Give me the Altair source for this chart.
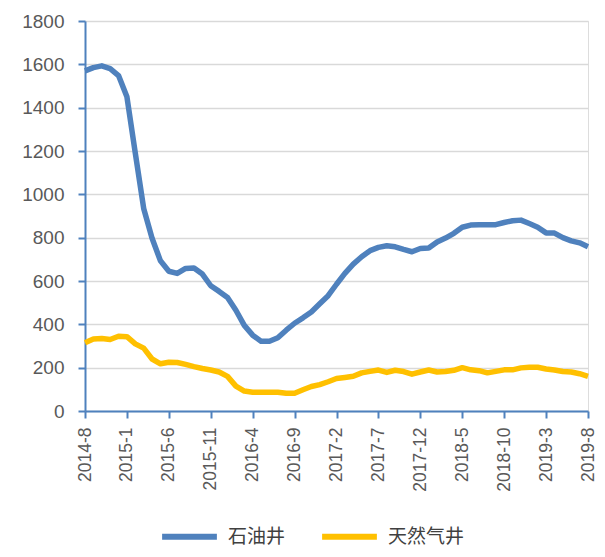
import altair as alt
import pandas as pd

months = []
y, m = 2014, 8
for _ in range(61):
    months.append(f"{y}-{m}")
    m += 1
    if m > 12:
        m = 1
        y += 1

oil = [1570, 1585, 1593, 1580, 1548, 1450, 1190, 935, 797, 693,
       645, 635, 658, 660, 632, 578, 552, 524, 465, 395,
       350, 322, 322, 338, 373, 405, 430, 457, 495, 532,
       585, 635, 678, 712, 740, 755, 763, 758, 746, 735,
       750, 752, 780, 798, 820, 848, 858, 860, 860, 860,
       870, 878, 881, 865, 848, 822, 821, 800, 785, 776,
       758]

gas = [315, 332, 335, 330, 345, 343, 310, 290, 240, 218,
       225, 224, 215, 205, 196, 189, 180, 160, 115, 92,
       87, 87, 87, 87, 82, 82, 98, 113, 122, 135,
       150, 155, 160, 176, 183, 189, 178, 188, 182, 170,
       180, 189, 180, 182, 188, 200, 190, 186, 176, 183,
       190, 190, 199, 202, 202, 194, 189, 182, 180, 172,
       160]

series_names = ["石油井", "天然气井"]
series_colors = ["#4F81BD", "#FFC000"]
tick_labels = months[::5]

rows = []
for name, vals in zip(series_names, [oil, gas]):
    for mo, v in zip(months, vals):
        rows.append({"month": mo, "value": v, "series": name})
df = pd.DataFrame(rows)

axis_blue = "#4F81BD"
label_gray = "#595959"

chart = alt.Chart(df).mark_line(strokeWidth=5.5, strokeJoin="round", strokeCap="butt").encode(
    x=alt.X("month:N", sort=months, title=None,
            scale=alt.Scale(type="point", padding=0),
            axis=alt.Axis(values=tick_labels, labelAngle=270, labelFontSize=17.5,
                          labelColor=label_gray, labelFont="Liberation Sans",
                          domainColor=axis_blue, domainWidth=2,
                          tickColor=axis_blue, tickWidth=2, tickSize=7,
                          labelPadding=9, grid=False)),
    y=alt.Y("value:Q", title=None,
            scale=alt.Scale(domain=[0, 1800], nice=False),
            axis=alt.Axis(values=list(range(0, 1801, 200)), format="d", labelFontSize=19,
                          labelColor=label_gray, labelFont="Liberation Sans",
                          domainColor=axis_blue, domainWidth=2,
                          tickColor=axis_blue, tickWidth=2, tickSize=7,
                          labelPadding=14, gridColor="#D9D9D9", gridWidth=1.5)),
    color=alt.Color("series:N", sort=series_names,
                    scale=alt.Scale(domain=series_names, range=series_colors),
                    legend=alt.Legend(title=None, orient="none", direction="horizontal",
                                      legendX=74, legendY=485,
                                      symbolType="stroke", symbolSize=3000,
                                      symbolStrokeWidth=6, labelFontSize=19,
                                      labelFont="Noto Sans CJK SC", labelColor="#404040",
                                      columnPadding=24, labelOffset=8)),
).properties(
    width=503, height=390,
    autosize=alt.AutoSizeParams(type="none"),
    padding={"left": 77, "top": 13, "right": 9, "bottom": 138},
).configure_view(stroke=None).configure(background="white")

chart.save("out.html", embed_options={"renderer": "svg", "actions": False})
